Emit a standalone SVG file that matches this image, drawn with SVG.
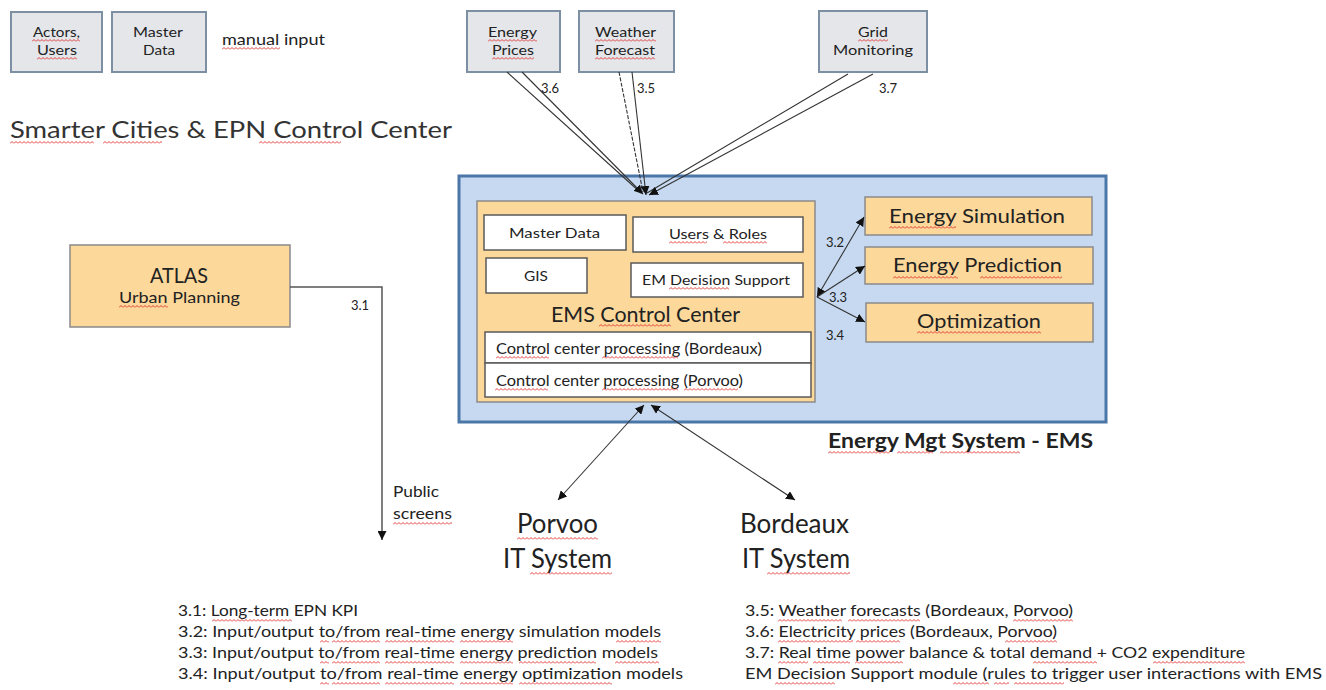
<svg xmlns="http://www.w3.org/2000/svg" width="1326" height="690" viewBox="0 0 1326 690">
  <style>
    text { font-family: Lato, "Liberation Sans", sans-serif; fill: #222; }
    .src { fill: #e4e6ea; stroke: #7d8fa3; stroke-width: 2; }
    .org { fill: #fcd89b; stroke: #8a8a8a; stroke-width: 1.5; }
    .wht { fill: #ffffff; stroke: #5a5a5a; stroke-width: 1.5; }
    .ems { fill: #c6d9f0; stroke: #4a76a8; stroke-width: 3; }
    .ln  { stroke: #333; stroke-width: 1.1; fill: none; }
    .c   { text-anchor: middle; }
    .s13 { font-size: 13px; }
    .s14 { font-size: 14px; }
    .lg  { font-size: 15.5px; fill: #3a3a3a; }
  </style>
  <defs>
    <marker id="ah" viewBox="0 0 10 10" refX="10" refY="5" markerWidth="9" markerHeight="9" markerUnits="userSpaceOnUse" orient="auto-start-reverse">
      <path d="M0,0 L10,5 L0,10 z" fill="#111"/>
    </marker>
    <!-- red zigzag used for spell-check marks -->
    <pattern id="wave" width="4" height="3" patternUnits="userSpaceOnUse">
      <path d="M0,2.5 L2,0.5 L4,2.5" fill="none" stroke="#e02a2a" stroke-width="0.9"/>
    </pattern>
  </defs>

  <!-- manual input sources -->
  <g id="actors-users">
    <rect class="src" x="11" y="12" width="91" height="60"/>
    <text class="c s13" x="56.5" y="37" textLength="47" lengthAdjust="spacingAndGlyphs">Actors,</text>
    <text class="c s13" x="57" y="55" textLength="40" lengthAdjust="spacingAndGlyphs">Users</text>
  </g>
  <g id="master-data-src">
    <rect class="src" x="112" y="12" width="94" height="60"/>
    <text class="c s13" x="158" y="37" textLength="50" lengthAdjust="spacingAndGlyphs">Master</text>
    <text class="c s13" x="159" y="55" textLength="32" lengthAdjust="spacingAndGlyphs">Data</text>
  </g>
  <text x="222" y="45" style="font-size:15px" textLength="103" lengthAdjust="spacingAndGlyphs">manual input</text>

  <!-- external data feeds -->
  <g id="energy-prices">
    <rect class="src" x="467" y="11" width="93" height="61"/>
    <text class="c s14" x="512.5" y="37" textLength="49" lengthAdjust="spacingAndGlyphs">Energy</text>
    <text class="c s14" x="513" y="55" textLength="42" lengthAdjust="spacingAndGlyphs">Prices</text>
  </g>
  <g id="weather-forecast">
    <rect class="src" x="579" y="11" width="95" height="61"/>
    <text class="c s14" x="625.5" y="37" textLength="61" lengthAdjust="spacingAndGlyphs">Weather</text>
    <text class="c s14" x="625" y="55" textLength="60" lengthAdjust="spacingAndGlyphs">Forecast</text>
  </g>
  <g id="grid-monitoring">
    <rect class="src" x="819" y="11" width="108" height="61"/>
    <text class="c s14" x="873" y="37" textLength="30" lengthAdjust="spacingAndGlyphs">Grid</text>
    <text class="c s14" x="873" y="55" textLength="80" lengthAdjust="spacingAndGlyphs">Monitoring</text>
  </g>

  <text x="10" y="138" style="font-size:23px;fill:#333" textLength="442" lengthAdjust="spacingAndGlyphs">Smarter Cities &amp; EPN Control Center</text>

  <!-- ATLAS -->
  <g id="atlas">
    <rect class="org" x="70" y="245" width="220" height="82"/>
    <text class="c" x="179" y="283" style="font-size:21px" textLength="58" lengthAdjust="spacingAndGlyphs">ATLAS</text>
    <text class="c" x="179.5" y="303" style="font-size:15px" textLength="121" lengthAdjust="spacingAndGlyphs">Urban Planning</text>
  </g>

  <!-- Energy Management System -->
  <g id="ems">
    <rect class="ems" x="459" y="176" width="647" height="246"/>
    <text x="828" y="448" style="font-size:20px;font-weight:bold" textLength="265" lengthAdjust="spacingAndGlyphs">Energy Mgt System - EMS</text>
  </g>

  <g id="ems-control-center">
    <rect class="org" x="477" y="201" width="338" height="201"/>
    <text class="c" x="645.5" y="322" style="font-size:21px" textLength="189" lengthAdjust="spacingAndGlyphs">EMS Control Center</text>
  </g>
  <g id="cc-master-data">
    <rect class="wht" x="484" y="215" width="142" height="35"/>
    <text class="c s14" x="554.5" y="238" textLength="91" lengthAdjust="spacingAndGlyphs">Master Data</text>
  </g>
  <g id="cc-users-roles">
    <rect class="wht" x="633" y="217" width="170" height="35"/>
    <text class="c s14" x="718" y="239" textLength="98" lengthAdjust="spacingAndGlyphs">Users &amp; Roles</text>
  </g>
  <g id="cc-gis">
    <rect class="wht" x="486" y="258" width="101" height="35"/>
    <text class="c s14" x="536" y="281" textLength="24" lengthAdjust="spacingAndGlyphs">GIS</text>
  </g>
  <g id="cc-decision-support">
    <rect class="wht" x="631" y="263" width="172" height="34"/>
    <text class="c s14" x="716" y="285" textLength="148" lengthAdjust="spacingAndGlyphs">EM Decision Support</text>
  </g>
  <g id="cc-processing-bordeaux">
    <rect class="wht" x="485" y="332" width="326" height="31"/>
    <text x="496" y="354" style="font-size:15px" textLength="266" lengthAdjust="spacingAndGlyphs">Control center processing (Bordeaux)</text>
  </g>
  <g id="cc-processing-porvoo">
    <rect class="wht" x="485" y="363" width="326" height="34"/>
    <text x="496" y="386" style="font-size:15px" textLength="247" lengthAdjust="spacingAndGlyphs">Control center processing (Porvoo)</text>
  </g>

  <g id="energy-simulation">
    <rect class="org" x="865" y="197" width="227" height="38"/>
    <text class="c" x="977" y="223" style="font-size:20px" textLength="176" lengthAdjust="spacingAndGlyphs">Energy Simulation</text>
  </g>
  <g id="energy-prediction">
    <rect class="org" x="865" y="247" width="228" height="37"/>
    <text class="c" x="977.5" y="272" style="font-size:20px" textLength="169" lengthAdjust="spacingAndGlyphs">Energy Prediction</text>
  </g>
  <g id="optimization">
    <rect class="org" x="866" y="303" width="227" height="39"/>
    <text class="c" x="979" y="328" style="font-size:20px" textLength="124" lengthAdjust="spacingAndGlyphs">Optimization</text>
  </g>

  <!-- IT systems -->
  <g id="porvoo-it">
    <text class="c" x="557.5" y="533" style="font-size:26px" textLength="81" lengthAdjust="spacingAndGlyphs">Porvoo</text>
    <text class="c" x="557.5" y="568" style="font-size:26px" textLength="109" lengthAdjust="spacingAndGlyphs">IT System</text>
  </g>
  <g id="bordeaux-it">
    <text class="c" x="794.5" y="533" style="font-size:26px" textLength="109" lengthAdjust="spacingAndGlyphs">Bordeaux</text>
    <text class="c" x="796" y="568" style="font-size:26px" textLength="108" lengthAdjust="spacingAndGlyphs">IT System</text>
  </g>

  <!-- connectors -->
  <g id="connectors">
    <!-- 3.6 energy prices -->
    <line class="ln" x1="507" y1="72" x2="641" y2="193"/>
    <line class="ln" x1="522" y1="72" x2="643" y2="194" marker-end="url(#ah)"/>
    <!-- 3.5 weather -->
    <line class="ln" x1="619" y1="72" x2="643" y2="192" stroke-dasharray="4 1.5"/>
    <line class="ln" x1="632" y1="72" x2="646" y2="195" marker-end="url(#ah)"/>
    <!-- 3.7 grid -->
    <line class="ln" x1="848" y1="74" x2="647" y2="193"/>
    <line class="ln" x1="873" y1="74" x2="649" y2="195" marker-end="url(#ah)"/>

    <!-- 3.2 / 3.3 / 3.4 -->
    <line class="ln" x1="817" y1="297" x2="864" y2="217" marker-start="url(#ah)" marker-end="url(#ah)"/>
    <line class="ln" x1="817" y1="297" x2="865" y2="266" marker-end="url(#ah)"/>
    <line class="ln" x1="817" y1="297" x2="865" y2="322" marker-end="url(#ah)"/>

    <!-- IT systems -->
    <line class="ln" x1="644" y1="405" x2="558" y2="500" marker-start="url(#ah)" marker-end="url(#ah)"/>
    <line class="ln" x1="651" y1="405" x2="795" y2="500" marker-start="url(#ah)" marker-end="url(#ah)"/>

    <!-- 3.1 ATLAS to public screens -->
    <polyline points="290,287 382,287 382,540" fill="none" stroke="#555" stroke-width="1.5" marker-end="url(#ah)"/>
  </g>

  <!-- connector labels -->
  <g style="font-size:13px">
    <text x="541" y="93">3.6</text>
    <text x="637" y="93">3.5</text>
    <text x="879" y="93">3.7</text>
    <text x="826" y="247">3.2</text>
    <text x="829" y="302">3.3</text>
    <text x="826" y="340">3.4</text>
    <text x="351" y="310">3.1</text>
    <text x="393" y="497" style="font-size:15px" textLength="46" lengthAdjust="spacingAndGlyphs">Public</text>
    <text x="393" y="519" style="font-size:15px" textLength="59" lengthAdjust="spacingAndGlyphs">screens</text>
  </g>

  <!-- legend -->
  <g class="lg">
    <text x="178" y="616" textLength="180" lengthAdjust="spacingAndGlyphs">3.1: Long-term EPN KPI</text>
    <text x="178" y="637" textLength="483" lengthAdjust="spacingAndGlyphs">3.2: Input/output to/from real-time energy simulation models</text>
    <text x="178" y="658" textLength="480" lengthAdjust="spacingAndGlyphs">3.3: Input/output to/from real-time energy prediction models</text>
    <text x="178" y="679" textLength="505" lengthAdjust="spacingAndGlyphs">3.4: Input/output to/from real-time energy optimization models</text>

    <text x="745" y="616" textLength="328" lengthAdjust="spacingAndGlyphs">3.5: Weather forecasts (Bordeaux, Porvoo)</text>
    <text x="745" y="637" textLength="312" lengthAdjust="spacingAndGlyphs">3.6: Electricity prices (Bordeaux, Porvoo)</text>
    <text x="745" y="658" textLength="500" lengthAdjust="spacingAndGlyphs">3.7: Real time power balance &amp; total demand + CO2 expenditure</text>
    <text x="745" y="679" textLength="577" lengthAdjust="spacingAndGlyphs">EM Decision Support module (rules to trigger user interactions with EMS</text>
  </g>

  <!-- spell-check marks under words -->
  <g id="spelling-marks" fill="url(#wave)">
    <rect transform="translate(32 39)" width="48" height="3"/>
    <rect transform="translate(37 57)" width="40" height="3"/>
    <rect transform="translate(222 47)" width="58" height="3"/>
    <rect transform="translate(488 39)" width="49" height="3"/>
    <rect transform="translate(492 57)" width="42" height="3"/>
    <rect transform="translate(595 39)" width="61" height="3"/>
    <rect transform="translate(595 57)" width="60" height="3"/>
    <rect transform="translate(858 39)" width="30" height="3"/>

    <rect transform="translate(10 141)" width="84" height="3"/>
    <rect transform="translate(103 141)" width="59" height="3"/>
    <rect transform="translate(259 141)" width="82" height="3"/>

    <rect transform="translate(119 305)" width="49" height="3"/>
    <rect transform="translate(393 522)" width="59" height="3"/>

    <rect transform="translate(669 241)" width="38" height="3"/>
    <rect transform="translate(723 241)" width="44" height="3"/>
    <rect transform="translate(669 287)" width="60" height="3"/>
    <rect transform="translate(599 324)" width="72" height="3"/>
    <rect transform="translate(496 356)" width="53" height="3"/>
    <rect transform="translate(602 356)" width="76" height="3"/>
    <rect transform="translate(495 388)" width="53" height="3"/>
    <rect transform="translate(602 388)" width="76" height="3"/>
    <rect transform="translate(684 388)" width="54" height="3"/>

    <rect transform="translate(889 226)" width="67" height="3"/>
    <rect transform="translate(893 276)" width="65" height="3"/>
    <rect transform="translate(980 276)" width="82" height="3"/>
    <rect transform="translate(917 331)" width="124" height="3"/>
    <rect transform="translate(828 451)" width="62" height="3"/>
    <rect transform="translate(897 451)" width="36" height="3"/>
    <rect transform="translate(940 451)" width="80" height="3"/>

    <rect transform="translate(517 537)" width="81" height="3"/>
    <rect transform="translate(530 572)" width="82" height="3"/>
    <rect transform="translate(767 572)" width="83" height="3"/>

    <rect transform="translate(212 619)" width="80" height="3"/>
    <rect transform="translate(320 640)" width="9" height="3"/>
    <rect transform="translate(332 640)" width="48" height="3"/>
    <rect transform="translate(385 640)" width="69" height="3"/>
    <rect transform="translate(460 640)" width="53" height="3"/>
    <rect transform="translate(616 640)" width="45" height="3"/>
    <rect transform="translate(320 661)" width="9" height="3"/>
    <rect transform="translate(332 661)" width="48" height="3"/>
    <rect transform="translate(385 661)" width="69" height="3"/>
    <rect transform="translate(460 661)" width="53" height="3"/>
    <rect transform="translate(519 661)" width="77" height="3"/>
    <rect transform="translate(615 661)" width="44" height="3"/>
    <rect transform="translate(320 682)" width="9" height="3"/>
    <rect transform="translate(332 682)" width="48" height="3"/>
    <rect transform="translate(385 682)" width="69" height="3"/>
    <rect transform="translate(460 682)" width="53" height="3"/>
    <rect transform="translate(519 682)" width="93" height="3"/>

    <rect transform="translate(778 619)" width="64" height="3"/>
    <rect transform="translate(848 619)" width="72" height="3"/>
    <rect transform="translate(1013 619)" width="60" height="3"/>
    <rect transform="translate(778 640)" width="75" height="3"/>
    <rect transform="translate(856 640)" width="44" height="3"/>
    <rect transform="translate(1005 640)" width="52" height="3"/>
    <rect transform="translate(778 661)" width="30" height="3"/>
    <rect transform="translate(813 661)" width="37" height="3"/>
    <rect transform="translate(855 661)" width="48" height="3"/>
    <rect transform="translate(1033 661)" width="64" height="3"/>
    <rect transform="translate(1153 661)" width="92" height="3"/>
    <rect transform="translate(775 682)" width="60" height="3"/>
    <rect transform="translate(953 682)" width="36" height="3"/>
    <rect transform="translate(994 682)" width="15" height="3"/>
    <rect transform="translate(1014 682)" width="50" height="3"/>
  </g>
</svg>
